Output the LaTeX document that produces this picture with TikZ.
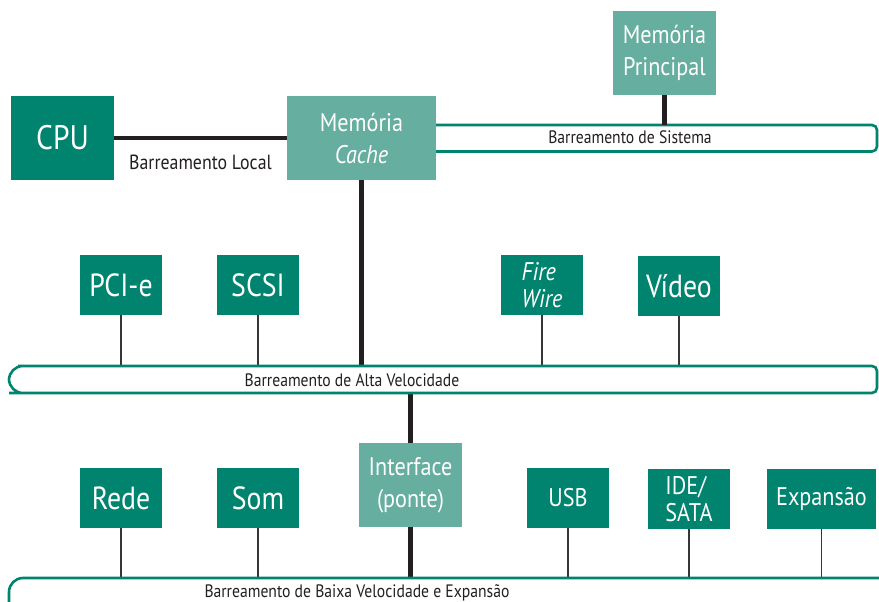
\documentclass[tikz,border=0pt]{standalone}
\usepackage{fontspec}
\setmainfont{PT Sans}[FakeStretch=0.87]
\definecolor{tealdark}{HTML}{00846F}
\definecolor{teallight}{HTML}{66AEA0}
\definecolor{ink}{HTML}{231F20}
\begin{document}
\begin{tikzpicture}[x=1pt,y=-1pt,
  unit/.style={inner sep=0pt, text=white, align=center},
  darkunit/.style={unit, fill=tealdark, minimum width=82pt, minimum height=60pt},
  lightunit/.style={unit, fill=teallight, minimum width=103pt, minimum height=84pt},
  bigtxt/.style={font=\fontsize{32}{40}\selectfont},
  midtxt/.style={font=\fontsize{25.5}{32}\selectfont},
  tighttxt/.style={font=\fontsize{25.5}{26.5}\selectfont},
  buslabel/.style={text=ink, inner sep=0pt, font=\fontsize{18}{22}\selectfont},
  bus/.style={draw=tealdark, line width=2.6pt},
  thicklink/.style={draw=ink, line width=4.8pt},
  thinlink/.style={draw=ink!90, line width=1.6pt}]
\clip (0,0) rectangle (879,602);
\fill[white] (0,0) rectangle (879,602);

% bus reference lines
\coordinate (systop) at (0,125);
\coordinate (hightop) at (0,366);
\coordinate (highbot) at (0,393);
\coordinate (lowtop) at (0,578);

% system bus (its left end runs under the cache)
\draw[bus, rounded corners=5pt] (420,125) -- (877,125) -- (877,151.5) -- (420,151.5);

% units
\node[unit, fill=tealdark, minimum width=103pt, minimum height=84pt,
      font=\fontsize{34}{40}\selectfont] (cpu) at (62.5,138) {CPU};
\node[lightunit, minimum width=149pt, midtxt] (cache) at (361.5,138) {Memória\\\textit{Cache}};
\node[lightunit, midtxt] (mp) at (664.5,53) {Memória\\Principal};

\node[darkunit, bigtxt] (pcie) at (121,285) {PCI-e};
\node[darkunit, bigtxt] (scsi) at (258,285) {SCSI};
\node[darkunit, tighttxt, align=left] (fw) at (542,285) {\textit{Fire}\\\textit{Wire}};
\node[darkunit, bigtxt] (video) at (679,286) {Vídeo};

\node[lightunit, midtxt] (iface) at (410.5,485) {Interface\\(ponte)};
\node[darkunit, bigtxt] (rede) at (121,498) {Rede};
\node[darkunit, bigtxt] (som) at (258,498) {Som};
\node[darkunit, midtxt] (usb) at (568,498) {USB};
\node[darkunit, tighttxt, align=left] (ide) at (689,499) {IDE/\\SATA};
\node[darkunit, midtxt, minimum width=109pt] (exp) at (821.5,499) {Expansão};

% links
\draw[thicklink] (cpu.east) -- (cache.west);
\draw[thicklink] (cache.south) -- (cache.south |- hightop);
\draw[thicklink] (mp.south) -- (mp.south |- systop);
\draw[thicklink] (iface.north) -- (iface.north |- highbot);
\draw[thicklink] (iface.south) -- (iface.south |- lowtop);

\foreach \n in {pcie,scsi,fw,video}
  \draw[thinlink] (\n.south) -- (\n.south |- hightop);
\foreach \n in {rede,som,usb,ide,exp}
  \draw[thinlink] (\n.south) -- (\n.south |- lowtop);

% high speed and low speed buses
\draw[bus] (877,380) [rounded corners=5pt] -- (877,366) -- (23,366)
  [rounded corners=14pt] -- (9,366) -- (9,393) -- (23,393)
  [rounded corners=5pt] -- (877,393) -- (877,380);
\draw[bus, rounded corners=14pt] (890,578) -- (9,578) -- (9,620) -- (890,620);

% labels
\node[buslabel, font=\fontsize{20.5}{24}\selectfont, anchor=base] (lloc) at (200.5,169) {Barreamento Local};
\node[buslabel] (lsys) at (630,137) {Barreamento de Sistema};
\node[buslabel] (lhigh) at (352,380) {Barreamento de Alta Velocidade};
\node[buslabel, anchor=base] (llow) at (357,597.5) {Barreamento de Baixa Velocidade e Expansão};
\end{tikzpicture}
\end{document}
